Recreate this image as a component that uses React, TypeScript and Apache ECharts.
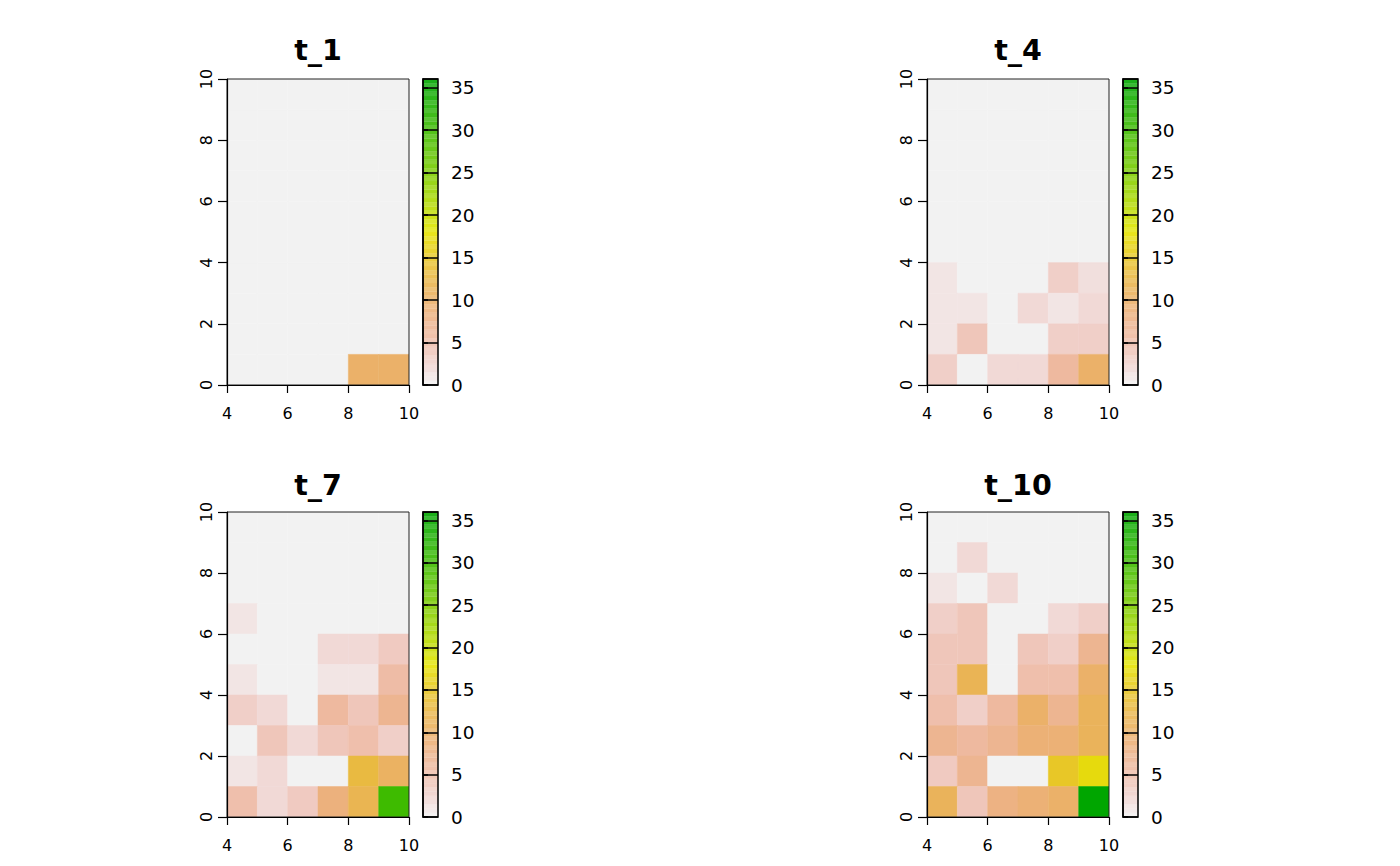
import React, { useEffect, useRef } from "react";
import * as echarts from "echarts";

// ---- data ----
const panelTitles = ["t_1", "t_4", "t_7", "t_10"];
const xCells = [4, 5, 6, 7, 8, 9]; // left edge of each column
const yCellsTopDown = [9, 8, 7, 6, 5, 4, 3, 2, 1, 0]; // bottom edge of each row, top row first
const xTicks = [4, 6, 8, 10];
const yTicks = [0, 2, 4, 6, 8, 10];
const legendTicks = [0, 5, 10, 15, 20, 25, 30, 35];
const legendMax = 36;

const t1 = [
  [0, 0, 0, 0, 0, 0],
  [0, 0, 0, 0, 0, 0],
  [0, 0, 0, 0, 0, 0],
  [0, 0, 0, 0, 0, 0],
  [0, 0, 0, 0, 0, 0],
  [0, 0, 0, 0, 0, 0],
  [0, 0, 0, 0, 0, 0],
  [0, 0, 0, 0, 0, 0],
  [0, 0, 0, 0, 0, 0],
  [0, 0, 0, 0, 10, 10],
];
const t4 = [
  [0, 0, 0, 0, 0, 0],
  [0, 0, 0, 0, 0, 0],
  [0, 0, 0, 0, 0, 0],
  [0, 0, 0, 0, 0, 0],
  [0, 0, 0, 0, 0, 0],
  [0, 0, 0, 0, 0, 0],
  [1, 0, 0, 0, 3, 1.5],
  [1, 1, 0, 2, 1, 2],
  [1, 4, 0, 0, 3, 3],
  [3, 0, 2, 2, 6, 10],
];
const t7 = [
  [0, 0, 0, 0, 0, 0],
  [0, 0, 0, 0, 0, 0],
  [0, 0, 0, 0, 0, 0],
  [1, 0, 0, 0, 0, 0],
  [0, 0, 0, 2, 2, 3.5],
  [1, 0, 0, 1, 1, 5.5],
  [3, 2, 0, 6, 4, 7],
  [0, 4, 2, 4, 5, 3],
  [1, 2, 0, 0, 13, 10.5],
  [5, 2, 3.5, 8.5, 11.7, 30],
];
const t10 = [
  [0, 0, 0, 0, 0, 0],
  [0, 2, 0, 0, 0, 0],
  [1, 0, 2, 0, 0, 0],
  [3, 4, 0, 0, 2, 3],
  [4, 4, 0, 4, 3, 7],
  [4, 11.5, 0, 5, 5, 10],
  [5, 3, 6, 10, 7, 11],
  [7, 6, 7, 9, 9, 11],
  [3.5, 7, 0, 0, 15, 17],
  [11, 4, 8, 9, 10, 36],
];
const panelValues = [t1, t4, t7, t10];

// reversed R terrain.colors
function hsvToRgb(h: number, s: number, v: number) {
  const i = Math.floor(h * 6);
  const f = h * 6 - i;
  const p = v * (1 - s);
  const q = v * (1 - f * s);
  const t = v * (1 - (1 - f) * s);
  let r = 0, g = 0, b = 0;
  switch (((i % 6) + 6) % 6) {
    case 0: r = v; g = t; b = p; break;
    case 1: r = q; g = v; b = p; break;
    case 2: r = p; g = v; b = t; break;
    case 3: r = p; g = q; b = v; break;
    case 4: r = t; g = p; b = v; break;
    default: r = v; g = p; b = q;
  }
  return [r, g, b];
}
function toHex(rgb: number[], blend = 0) {
  const hx = (x: number) =>
    Math.round((x * (1 - blend) + blend) * 255).toString(16).padStart(2, "0");
  return "#" + hx(rgb[0]) + hx(rgb[1]) + hx(rgb[2]);
}
function terrainRgb(val: number) {
  const u = Math.max(0, Math.min(1, val / legendMax));
  if (u <= 0.5) {
    const t = u * 2;
    return hsvToRgb(t / 6, t, 0.95 - 0.05 * t);
  }
  const t2 = (u - 0.5) * 2;
  return hsvToRgb(1 / 6 + t2 / 6, 1, 0.9 - 0.25 * t2);
}
function terrainColor(val: number, blend = 0) {
  return toHex(terrainRgb(val), blend);
}

const FONT = "DejaVu Sans";

const layouts = [
  { left: 227, top: 79, height: 306 },
  { left: 927, top: 79, height: 306 },
  { left: 227, top: 512, height: 305 },
  { left: 927, top: 512, height: 305 },
];
const PLOT_W = 182;
const LEG_OFF = 196;
const LEG_W = 15;

export default function App() {
  const ref = useRef<HTMLDivElement>(null);
  useEffect(() => {
    if (!ref.current) return;
    const chart = echarts.init(ref.current, null, { renderer: "svg" });

    const grid: any[] = [];
    const xAxis: any[] = [];
    const yAxis: any[] = [];
    const series: any[] = [];
    const graphic: any[] = [];

    const legendBands: number[][] = [];
    const step = 0.5;
    for (let i = 0; i * step < legendMax - 1e-9; i++) {
      legendBands.push([i % 2, i * step, Math.min(legendMax, (i + 1) * step)]);
    }

    layouts.forEach((L, k) => {
      grid.push({
        left: L.left, top: L.top, width: PLOT_W, height: L.height,
        show: true, borderColor: "#222", borderWidth: 1, backgroundColor: "transparent", z: 5,
      });
      xAxis.push({
        gridIndex: 2 * k, type: "value", min: 4, max: 10, interval: 2, z: 6,
        axisLine: { show: true, onZero: false, lineStyle: { color: "#000", width: 1.2 } },
        axisTick: { show: true, length: 8, lineStyle: { color: "#000", width: 1.2 } },
        axisLabel: { color: "#000", fontSize: 16, fontFamily: FONT, margin: 20,
          formatter: (v: number) => (xTicks.indexOf(v) >= 0 ? String(v) : "") },
        splitLine: { show: false },
      });
      yAxis.push({
        gridIndex: 2 * k, type: "value", min: 0, max: 10, interval: 2, z: 6,
        axisLine: { show: true, onZero: false, lineStyle: { color: "#000", width: 1.2 } },
        axisTick: { show: true, length: 9, lineStyle: { color: "#000", width: 1.2 } },
        axisLabel: { color: "#000", fontSize: 16, fontFamily: FONT, margin: 13, rotate: 90,
          formatter: (v: number) => (yTicks.indexOf(v) >= 0 ? String(v) : "") },
        splitLine: { show: false },
      });
      grid.push({
        left: L.left + LEG_OFF, top: L.top, width: LEG_W, height: L.height,
        show: true, borderColor: "#000", borderWidth: 1.5, backgroundColor: "transparent", z: 5,
      });
      xAxis.push({ gridIndex: 2 * k + 1, type: "value", min: 0, max: 1, show: false });
      yAxis.push({
        gridIndex: 2 * k + 1, type: "value", min: 0, max: legendMax, interval: 5, position: "right", z: 6,
        axisLine: { show: true, lineStyle: { color: "#000", width: 1.5 } },
        axisTick: { show: true, length: 5, lineStyle: { color: "#000", width: 1.5 } },
        axisLabel: { color: "#000", fontSize: 18.5, fontFamily: FONT, margin: 13, showMaxLabel: false,
          formatter: (v: number) => (legendTicks.indexOf(v) >= 0 ? String(v) : "") },
        splitLine: { show: true, lineStyle: { color: "#000", width: 1.5 } },
      });

      const vals = panelValues[k];
      const data: number[][] = [];
      yCellsTopDown.forEach((yb, r) => {
        xCells.forEach((xl, c) => data.push([xl, yb, vals[r][c]]));
      });
      series.push({
        type: "custom", xAxisIndex: 2 * k, yAxisIndex: 2 * k, z: 2, clip: true,
        data,
        renderItem: (params: any, api: any) => {
          const x = api.value(0), y = api.value(1), v = api.value(2);
          const p0 = api.coord([x, y + 1]);
          const p1 = api.coord([x + 1, y]);
          const c = terrainColor(v);
          return {
            type: "rect",
            shape: { x: p0[0], y: p0[1], width: p1[0] - p0[0], height: p1[1] - p0[1] },
            style: { fill: c, stroke: c, lineWidth: 0.5 },
          };
        },
      });
      series.push({
        type: "custom", xAxisIndex: 2 * k + 1, yAxisIndex: 2 * k + 1, z: 2, clip: true,
        data: legendBands,
        renderItem: (params: any, api: any) => {
          const odd = api.value(0), y0 = api.value(1), y1 = api.value(2);
          const p0 = api.coord([0, y1]);
          const p1 = api.coord([1, y0]);
          const c = terrainColor((y0 + y1) / 2, odd ? 0.1 : 0.2);
          return {
            type: "rect",
            shape: { x: p0[0], y: p0[1], width: p1[0] - p0[0], height: p1[1] - p0[1] },
            style: { fill: c, stroke: c, lineWidth: 0.3 },
          };
        },
      });
      graphic.push({
        type: "text",
        x: L.left + PLOT_W / 2,
        y: L.top - (k < 2 ? 14 : 12),
        style: {
          text: panelTitles[k], fill: "#000", font: `bold 28.5px "${FONT}"`,
          textAlign: "center", textVerticalAlign: "bottom",
        },
      });
    });

    chart.setOption({
      animation: false,
      backgroundColor: "#fff",
      grid, xAxis, yAxis, series, graphic,
    });
    return () => chart.dispose();
  }, []);
  return <div ref={ref} style={{ position: "fixed", left: 0, top: 0, width: 1400, height: 866 }} />;
}
